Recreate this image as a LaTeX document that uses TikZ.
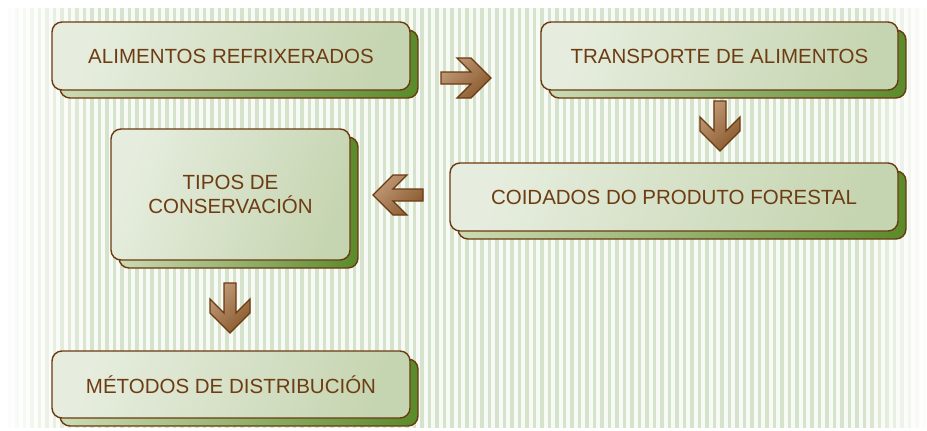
\documentclass[tikz,border=0pt]{standalone}
\usepackage{fontspec}
\setmainfont{Liberation Sans}
\usetikzlibrary{shadows}
\definecolor{brd}{HTML}{6B3A10}
\definecolor{txt}{HTML}{6E3C12}
\definecolor{frL}{HTML}{E6EDDE}
\definecolor{frR}{HTML}{C6D5B1}
\definecolor{shL}{HTML}{CCDBB4}
\definecolor{shR}{HTML}{5A8A2A}
\definecolor{stripe}{HTML}{D6E3CC}
\definecolor{gap}{HTML}{F8FAF5}
\definecolor{arL}{HTML}{C09A78}
\definecolor{arD}{HTML}{8A5A2E}
\tikzset{
  box/.style={draw=brd, line width=1.4pt, rounded corners=10pt, inner sep=0pt,
    left color=frL, right color=frR, shading angle=70,
    font=\fontsize{20.5}{24}\selectfont, text=txt, align=center,
    general shadow={shadow xshift=8pt, shadow yshift=-8pt, draw=brd, line width=1.4pt,
      left color=shL, right color=shR}},
  arrowshape/.style={draw=brd, line width=1.3pt, line join=miter, left color=arL, right color=arD, shading angle=45},
  blockarrow/.pic={\path[arrowshape] (0,0) -- (-20,20) -- (-34,20) -- (-20,6) -- (-50,6) -- (-50,-6) -- (-20,-6) -- (-34,-20) -- (-20,-20) -- cycle;}
}
\begin{document}
\begin{tikzpicture}[x=1pt,y=-1pt]
\useasboundingbox (0,0) rectangle (927,431);
\fill[white] (0,0) rectangle (927,431);
% striped background fading at the sides
\foreach \i in {0,...,123}{
  \pgfmathsetmacro{\xx}{\i*7.5}
  \pgfmathsetmacro{\pp}{max(0,min(100,\xx*1.1,(927-\xx)*1.6))}
  \fill[stripe!\pp!white] (\xx,8) rectangle ++(3.8,420);
  \fill[gap!\pp!white] (\xx+3.8,8) rectangle ++(3.7,420);
}
\node[box, minimum width=358pt, minimum height=68pt] (b1) at (231,56) {ALIMENTOS REFRIXERADOS};
\node[box, minimum width=357pt, minimum height=68pt] (b2) at (719.5,56) {TRANSPORTE DE ALIMENTOS};
\node[box, minimum width=448pt, minimum height=68pt] (b3) at (674,197) {COIDADOS DO PRODUTO FORESTAL};
\node[box, minimum width=239pt, minimum height=131pt] (b4) at (230.5,194.5) {TIPOS DE\\CONSERVACIÓN};
\node[box, minimum width=358pt, minimum height=67pt] (b5) at (231,384.5) {MÉTODOS DE DISTRIBUCIÓN};
% block arrows between boxes
\pic at (491,78) {blockarrow};
\pic[rotate=-90] at (720,151) {blockarrow};
\pic[rotate=180] at (373,195) {blockarrow};
\pic[rotate=-90] at (230,333) {blockarrow};
\end{tikzpicture}
\end{document}
